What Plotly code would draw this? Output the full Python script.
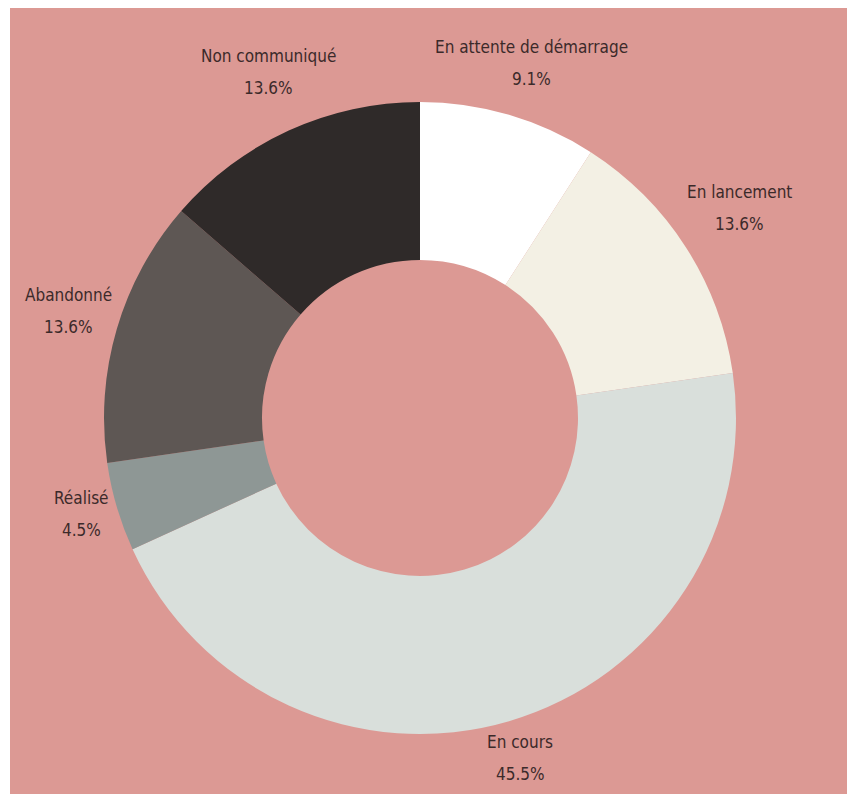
import plotly.graph_objects as go

# Data
categories = ["En attente de démarrage", "En lancement", "En cours", "Réalisé", "Abandonné", "Non communiqué"]
counts = [2, 3, 10, 1, 3, 3]
colors = ["#FFFFFF", "#F3F0E4", "#D9DFDB", "#8E9795", "#5E5754", "#2F2A29"]

# the page body adds an 8px offset; work in page pixels and convert
OFF = 8
W, H = 855 - OFF, 794 - OFF
BG = "#DC9994"
TXT = "#3B2A2A"
FONT = "DejaVu Sans Condensed, Liberation Sans Narrow, sans-serif"

total = sum(counts)
percents = [f"{100 * c / total:.1f}%" for c in counts]

# label placement (page pixel centers of name line), layout only
label_pos = {
    "En attente de démarrage": (531, 47),
    "En lancement": (739, 192),
    "En cours": (520, 742),
    "Réalisé": (81, 498),
    "Abandonné": (68, 295),
    "Non communiqué": (268, 56),
}
line_gap = 32


def px(x):
    return (x - OFF) / W


def py(y):
    return 1 - (y - OFF) / H


cx, cy, r = 420, 418, 316

fig = go.Figure(go.Pie(
    labels=categories,
    values=counts,
    sort=False,
    direction="clockwise",
    rotation=0,
    hole=0.5,
    textinfo="none",
    hoverinfo="label+percent",
    marker=dict(colors=colors, line=dict(width=0)),
    showlegend=False,
    domain=dict(x=[px(cx - r), px(cx + r)],
                y=[py(cy + r), py(cy - r)]),
))

annotations = []
for cat, pct in zip(categories, percents):
    lx, ly = label_pos[cat]
    for i, t in enumerate([cat, pct]):
        annotations.append(dict(
            x=px(lx), y=py(ly + i * line_gap),
            xref="paper", yref="paper",
            text=t, showarrow=False,
            xanchor="center", yanchor="middle",
            font=dict(family=FONT, size=17, color=TXT),
        ))

fig.update_layout(
    width=W, height=H,
    margin=dict(l=0, r=0, t=0, b=0),
    paper_bgcolor="#FFFFFF",
    plot_bgcolor="#FFFFFF",
    shapes=[dict(type="rect", xref="paper", yref="paper",
                 x0=px(10), x1=px(848), y0=0, y1=1,
                 fillcolor=BG, line=dict(width=0), layer="below")],
    annotations=annotations,
)

fig.write_html("out.html")
